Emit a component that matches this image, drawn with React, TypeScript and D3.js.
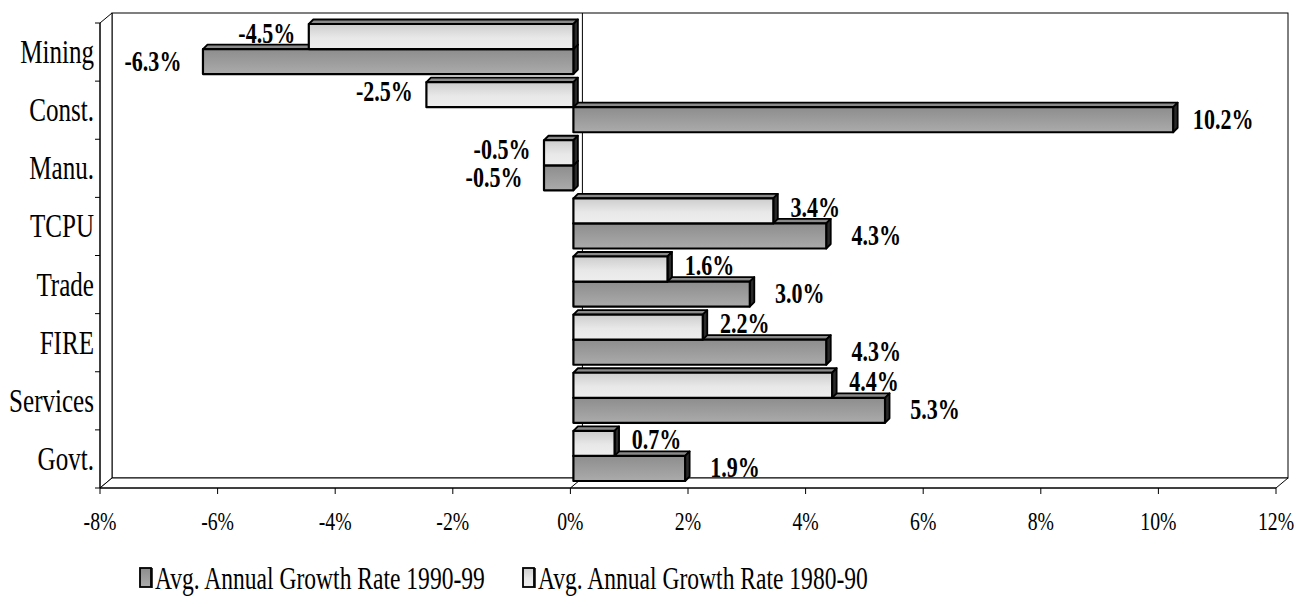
import React from 'react';
import * as d3 from 'd3';

// Industry categories, top to bottom
const categories = ['Mining', 'Const.', 'Manu.', 'TCPU', 'Trade', 'FIRE', 'Services', 'Govt.'];
// Average annual growth rates (%)
const growth1990s = [-6.3, 10.2, -0.5, 4.3, 3.0, 4.3, 5.3, 1.9];
const growth1980s = [-4.5, -2.5, -0.5, 3.4, 1.6, 2.2, 4.4, 0.7];
const xTicks = [-8, -6, -4, -2, 0, 2, 4, 6, 8, 10, 12];
const seriesNames = ['Avg. Annual Growth Rate 1990-99', 'Avg. Annual Growth Rate 1980-90'];
const title = 'Employment Growth by Industry (1980-1999)';

const W = 1296;
const H = 607;
const front = { left: 100, right: 1276, top: 23, bottom: 488 };
const wall = { dx: 12, dy: -10 };
const barShift = { dx: 3, dy: -3 };
const barDepth = 4.5;
const squeeze = 0.76;
const serif = '"Liberation Serif", "Times New Roman", serif';

const fmt = (v: number) => `${v.toFixed(1)}%`;

function Bar3D({ v, y, h, fill, xs }: { v: number; y: number; h: number; fill: string; xs: d3.ScaleLinear<number, number> }) {
  const a = xs(0) + barShift.dx;
  const b = xs(v) + barShift.dx;
  const l = Math.min(a, b);
  const r = Math.max(a, b);
  const t = y + barShift.dy;
  const d = barDepth;
  const top = `${l},${t} ${l + d},${t - d} ${r + d},${t - d} ${r},${t}`;
  const side = `${r},${t} ${r + d},${t - d} ${r + d},${t + h - d} ${r},${t + h}`;
  return (
    <g stroke="#000" strokeLinejoin="round">
      <polygon points={top} fill="#8a8a8a" strokeWidth={1.8} />
      <polygon points={side} fill="#2a2a2a" strokeWidth={1.8} />
      <rect x={l} y={t} width={r - l} height={h} fill={fill} strokeWidth={2.2} />
    </g>
  );
}

function SqText({ x, y, size, anchor = 'start', bold = false, children }: any) {
  return (
    <g transform={`translate(${x},${y}) scale(${squeeze},1)`}>
      <text
        x={0}
        y={0}
        fontFamily={serif}
        fontSize={size}
        fontWeight={bold ? 'bold' : 'normal'}
        textAnchor={anchor}
        fill="#000"
      >
        {children}
      </text>
    </g>
  );
}

export default function App() {
  const xs = d3.scaleLinear().domain([-8, 12]).range([front.left, front.right]);
  const ys = d3.scaleBand<string>().domain(categories).range([front.top, front.bottom]);
  const inner = d3
    .scaleBand<string>()
    .domain(['1980s', '1990s'])
    .range([0, ys.bandwidth()])
    .paddingInner(0)
    .paddingOuter(0.16);

  const backL = front.left + wall.dx;
  const backR = front.right + wall.dx;
  const backT = front.top + wall.dy;
  const backB = front.bottom + wall.dy;
  const x0 = xs(0);

  return (
    <svg
      width={W}
      height={H}
      viewBox={`0 0 ${W} ${H}`}
      style={{ position: 'absolute', left: 0, top: 0, background: '#fff' }}
    >
      <defs>
        <linearGradient id="gLight" x1="0" y1="0" x2="0" y2="1">
          <stop offset="0" stopColor="#cdcdcd" />
          <stop offset="0.55" stopColor="#e8e8e8" />
          <stop offset="1" stopColor="#eeeeee" />
        </linearGradient>
        <linearGradient id="gDark" x1="0" y1="0" x2="0" y2="1">
          <stop offset="0" stopColor="#8d8d8d" />
          <stop offset="1" stopColor="#ababab" />
        </linearGradient>
      </defs>

      {/* chart title, running off the top edge */}
      <text
        x={865}
        y={-4}
        textAnchor="end"
        fontFamily='"Liberation Sans", Arial, sans-serif'
        fontWeight="bold"
        fontSize={20}
      >
        {title}
      </text>

      {/* back wall, side wall and floor */}
      <rect x={backL} y={backT} width={backR - backL} height={backB - backT} fill="#fff" stroke="#000" strokeWidth={1} />
      <polygon
        points={`${front.left},${front.top} ${backL},${backT} ${backL},${backB} ${front.left},${front.bottom}`}
        fill="#fff"
        stroke="#000"
        strokeWidth={1}
      />
      <polygon
        points={`${front.left},${front.bottom} ${backL},${backB} ${backR},${backB} ${front.right},${front.bottom}`}
        fill="#fff"
        stroke="#000"
        strokeWidth={1}
      />
      {/* zero gridline on the wall and floor */}
      <line x1={x0 + wall.dx} x2={x0 + wall.dx} y1={backT} y2={backB} stroke="#000" strokeWidth={1} />
      <line x1={x0} x2={x0 + wall.dx} y1={front.bottom} y2={backB} stroke="#000" strokeWidth={1} />

      {/* axes */}
      <line x1={front.left} x2={front.left} y1={front.top} y2={front.bottom} stroke="#000" strokeWidth={1} />
      <line x1={front.left} x2={front.right} y1={front.bottom} y2={front.bottom} stroke="#000" strokeWidth={1} />
      {xTicks.map((t) => (
        <g key={t}>
          <line x1={xs(t)} x2={xs(t)} y1={front.bottom} y2={front.bottom + 6} stroke="#000" strokeWidth={1} />
          <SqText x={xs(t)} y={530} size={26} anchor="middle">
            {`${t}%`}
          </SqText>
        </g>
      ))}
      {categories.map((c) => (
        <line
          key={`t${c}`}
          x1={front.left - 5}
          x2={front.left}
          y1={ys(c)!}
          y2={ys(c)!}
          stroke="#000"
          strokeWidth={1}
        />
      ))}
      <line x1={front.left - 5} x2={front.left} y1={front.bottom} y2={front.bottom} stroke="#000" strokeWidth={1} />
      {categories.map((c) => (
        <SqText key={`c${c}`} x={94} y={ys(c)! + ys.bandwidth() / 2 + 11} size={33} anchor="end">
          {c}
        </SqText>
      ))}

      {/* bars: lower (1990-99) first, then upper (1980-90) */}
      {categories.map((c, i) => {
        const yb = ys(c)!;
        const h = inner.bandwidth();
        return (
          <g key={`b${c}`}>
            <Bar3D v={growth1990s[i]} y={yb + inner('1990s')!} h={h} fill="url(#gDark)" xs={xs} />
            <Bar3D v={growth1980s[i]} y={yb + inner('1980s')!} h={h} fill="url(#gLight)" xs={xs} />
          </g>
        );
      })}

      {/* value labels */}
      {categories.map((c, i) => {
        const yb = ys(c)!;
        const h = inner.bandwidth();
        const items = [
          { v: growth1980s[i], y: yb + inner('1980s')! + barShift.dy + h / 2 + 6, off: 42 },
          { v: growth1990s[i], y: yb + inner('1990s')! + barShift.dy + h / 2 + 9, off: 50 },
        ];
        return items.map((it, k) => {
          const end = xs(it.v) + barShift.dx;
          const cx = it.v >= 0 ? end + it.off : end - it.off;
          return (
            <SqText key={`l${c}${k}`} x={cx} y={it.y} size={29} anchor="middle" bold>
              {fmt(it.v)}
            </SqText>
          );
        });
      })}

      {/* legend */}
      {[
        { x: 140, fill: 'url(#gDark)', name: seriesNames[0] },
        { x: 523, fill: 'url(#gLight)', name: seriesNames[1] },
      ].map((e) => (
        <g key={e.name}>
          <rect x={e.x} y={568} width={11} height={19} fill={e.fill} stroke="#000" strokeWidth={1.8} />
          <line x1={e.x + 12} x2={e.x + 12} y1={568} y2={588} stroke="#000" strokeWidth={1.5} />
          <SqText x={e.x + 15} y={589} size={31}>
            {e.name}
          </SqText>
        </g>
      ))}
    </svg>
  );
}
